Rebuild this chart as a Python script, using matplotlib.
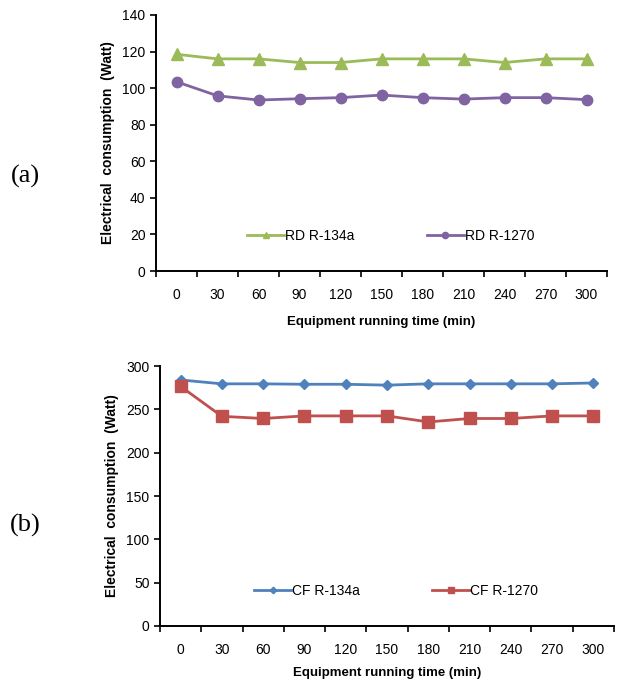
import numpy as np
import matplotlib.pyplot as plt

plt.rcParams['font.family'] = ['Liberation Sans', 'DejaVu Sans']

# running time categories (min)
times = [0, 30, 60, 90, 120, 150, 180, 210, 240, 270, 300]

# (a) RD unit
rd_r134a = [118.5, 116, 116, 114, 114, 116, 116, 116, 114, 116, 116]
rd_r1270 = [103.5, 95.8, 93.5, 94.2, 94.8, 96.2, 94.8, 94.0, 94.8, 94.8, 93.7]

# (b) CF unit
cf_r134a = [284, 279.5, 279.5, 279, 279, 278, 279.5, 279.5, 279.5, 279.5, 280.5]
cf_r1270 = [276.5, 242, 239.5, 242.5, 242.5, 242.5, 235.5, 239.5, 239.5, 242.5, 242.5]

GREEN = '#9BBB59'
PURPLE = '#8064A2'
BLUE = '#4F81BD'
RED = '#C0504D'

fig = plt.figure(figsize=(6.24, 6.84), dpi=100)
ax_a = fig.add_axes([0.25, 0.6038, 0.7228, 0.3743])
ax_b = fig.add_axes([0.2564, 0.0848, 0.7276, 0.380])

x = np.arange(len(times))


def style_axis(ax, ymax, ystep, xlabelpad):
    ax.set_xlim(-0.5, len(times) - 0.5)
    ax.set_ylim(0, ymax)
    ax.set_yticks(np.arange(0, ymax + 1, ystep))
    ax.set_xticks(x)
    ax.set_xticklabels([str(t) for t in times])
    ax.set_xticks(np.arange(-0.5, len(times)), minor=True)
    ax.tick_params(axis='x', which='major', length=0, pad=12, labelsize=10)
    ax.tick_params(axis='x', which='minor', length=4, width=1.2, direction='out')
    ax.tick_params(axis='y', length=4, width=1.2, direction='out', labelsize=10)
    for s in ('top', 'right'):
        ax.spines[s].set_visible(False)
    for s in ('left', 'bottom'):
        ax.spines[s].set_linewidth(1.4)
    ax.set_xlabel('Equipment running time (min)', fontsize=9.5, fontweight='bold',
                  labelpad=xlabelpad)
    ax.set_ylabel('Electrical  consumption  (Watt)', fontsize=10, fontweight='bold', labelpad=5)


def add_legend(ax):
    ax.legend(loc='lower center', bbox_to_anchor=(0.52, 0.06), ncol=2, frameon=False,
              fontsize=10, handlelength=2.7, columnspacing=5.2, handletextpad=0.05,
              markerscale=0.6)


ax_a.plot(x, rd_r134a, color=GREEN, lw=2, marker='^', ms=8, label='RD R-134a')
ax_a.plot(x, rd_r1270, color=PURPLE, lw=2, marker='o', ms=7.5, label='RD R-1270')
style_axis(ax_a, 140, 20, 10.5)
add_legend(ax_a)

ax_b.plot(x, cf_r134a, color=BLUE, lw=2, marker='D', ms=5.5, label='CF R-134a')
ax_b.plot(x, cf_r1270, color=RED, lw=2, marker='s', ms=8, label='CF R-1270')
style_axis(ax_b, 300, 50, 7.5)
add_legend(ax_b)

serif = ['Liberation Serif', 'DejaVu Serif']
fig.text(0.04, 0.742, '(a)', fontsize=19, family=serif, ha='center', va='center')
fig.text(0.04, 0.232, '(b)', fontsize=19, family=serif, ha='center', va='center')

fig.savefig('out.png', dpi=100)
